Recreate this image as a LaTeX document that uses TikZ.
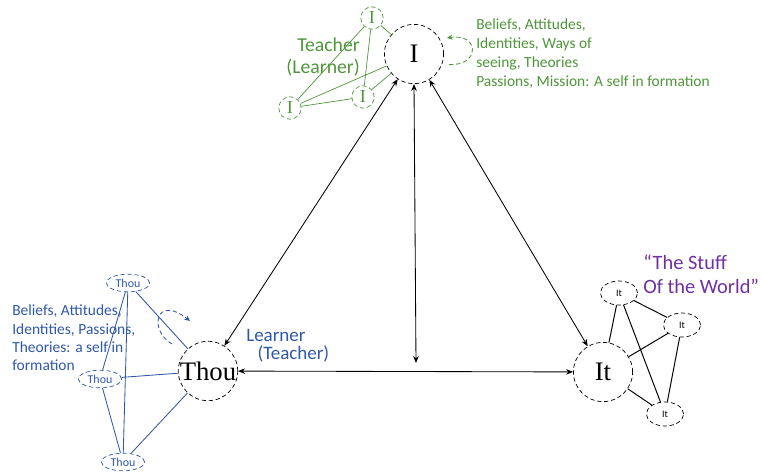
\documentclass[tikz,border=0pt]{standalone}
\usepackage{fontspec}
\setmainfont{Liberation Serif}
\newfontfamily\labelfont{Carlito}
\usetikzlibrary{arrows.meta,shapes.geometric}
\definecolor{selfgreen}{RGB}{78,150,58}
\definecolor{selfblue}{RGB}{48,88,168}
\definecolor{stuffpurple}{RGB}{112,48,160}

\begin{document}
\begin{tikzpicture}[x=0.025cm,y=-0.025cm,
  self/.style={circle,draw,densely dashed,line width=0.5pt,minimum size=1.48cm,inner sep=0pt,font=\fontsize{19}{22}\selectfont},
  greenself/.style={circle,draw=selfgreen,densely dashed,line width=0.5pt,minimum size=0.56cm,inner sep=0pt,text=selfgreen,font=\fontsize{13}{15}\selectfont},
  blueself/.style={ellipse,draw=selfblue,densely dashed,line width=0.5pt,minimum width=1.08cm,minimum height=0.44cm,inner sep=0pt,text=selfblue,font=\labelfont\fontsize{8.5}{10}\selectfont},
  stuff/.style={ellipse,draw,densely dashed,line width=0.5pt,minimum width=0.93cm,minimum height=0.6cm,inner sep=0pt,font=\labelfont\fontsize{7}{8}\selectfont},
  link/.style={{Stealth[length=5pt,width=4pt]}-{Stealth[length=5pt,width=4pt]},line width=0.6pt},
  greenline/.style={selfgreen,line width=0.5pt},
  blueline/.style={selfblue,line width=0.6pt},
  stuffline/.style={line width=0.7pt}]
\useasboundingbox (0,0) rectangle (762,473);

\node[self] (I) at (414,54) {I};
\node[self] (Thou) at (208,371) {Thou};
\node[self] (It) at (603,372) {It};
\coordinate (mid) at (416,363);

\draw[link] (I) -- (Thou);
\draw[link] (I) -- (It);
\draw[link] (Thou) -- (It);
\draw[link] (I.south) -- (mid);

\node[greenself] (Ia) at (372,18) {I};
\node[greenself] (Ib) at (363,97) {I};
\node[greenself] (Ic) at (290,108) {I};
\draw[greenline] (Ia) -- (I);
\draw[greenline] (Ia) -- (Ib);
\draw[greenline] (Ia) -- (Ic);
\draw[greenline] (Ic) -- (Ib);
\draw[greenline] (Ic) -- (I);
\draw[greenline] (Ib) -- (I);
\draw[selfgreen,densely dashed,line width=0.6pt,-{Stealth[length=4pt,width=3.5pt]},shorten <=5pt,shorten >=5pt]
  (I.-20) .. controls (480,66) and (480,33) .. (I.30);

\node[text=selfgreen,font=\labelfont\fontsize{14}{15}\selectfont,align=right,anchor=east,inner sep=0pt] (teacher) at (360,57) {Teacher\\(Learner)};
\node[text=selfgreen,font=\labelfont\fontsize{11}{13.5}\selectfont,align=left,anchor=west,inner sep=0pt] (beliefsI) at (476,54)
  {Beliefs, Attitudes,\\Identities, Ways of\\seeing, Theories\\Passions, Mission: A self in formation};

\node[blueself] (Thoua) at (128,283) {Thou};
\node[blueself] (Thoub) at (100,379) {Thou};
\node[blueself] (Thouc) at (123,462) {Thou};
\draw[blueline] (Thoua) -- (Thou);
\draw[blueline] (Thoua) -- (Thoub);
\draw[blueline] (Thoua) -- (Thouc);
\draw[blueline] (Thoub) -- (Thou);
\draw[blueline] (Thoub) -- (Thouc);
\draw[blueline] (Thouc) -- (Thou);
\draw[selfblue,densely dashed,line width=0.6pt,-{Stealth[length=4pt,width=3.5pt]}]
  (172,344) .. controls (148,330) and (156,294) .. (190,321);

\node[text=selfblue,font=\labelfont\fontsize{11}{13}\selectfont,align=left,anchor=west,inner sep=0pt] (beliefsThou) at (12,338)
  {Beliefs, Attitudes,\\Identities, Passions,\\Theories: a self in\\formation};
\node[text=selfblue,font=\labelfont\fontsize{13.5}{13}\selectfont,align=left,anchor=north west,inner sep=0pt] (learner) at (246,329)
  {Learner\\\hspace*{8pt}(Teacher)};

\node[stuff] (Ita) at (619,293) {It};
\node[stuff] (Itb) at (682,325) {It};
\node[stuff] (Itc) at (665,414) {It};
\draw[stuffline] (Ita) -- (It);
\draw[stuffline] (Ita) -- (Itb);
\draw[stuffline] (Ita) -- (Itc);
\draw[stuffline] (Itb) -- (It);
\draw[stuffline] (Itb) -- (Itc);
\draw[stuffline] (Itc) -- (It);

\node[text=stuffpurple,font=\labelfont\fontsize{14.5}{17}\selectfont,align=left,anchor=west,inner sep=0pt] (world) at (643,274)
  {“The Stuff\\Of the World”};
\end{tikzpicture}
\end{document}
